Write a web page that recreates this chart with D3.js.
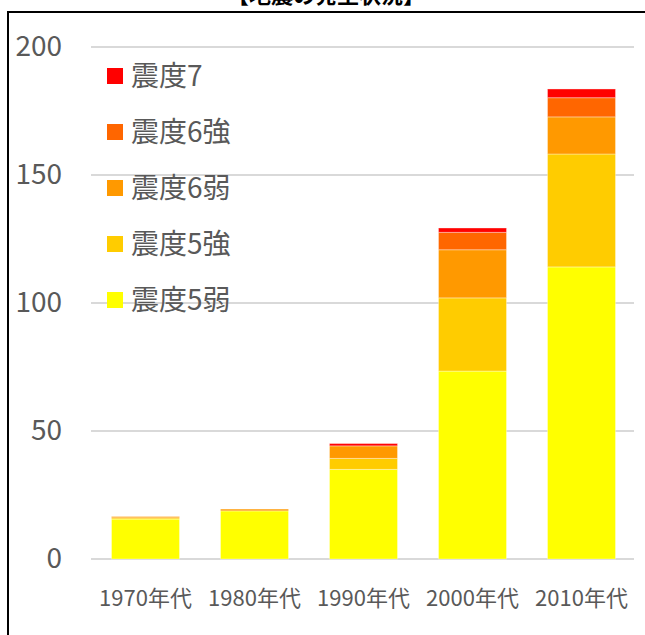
<!DOCTYPE html>
<html><head><meta charset="utf-8">
<script src="https://cdn.jsdelivr.net/npm/d3@7"></script>
<style>
html,body{margin:0;padding:0;background:#fff;}
svg{display:block;font-family:"Noto Sans CJK JP","Noto Sans",sans-serif;}
</style></head>
<body>
<svg id="chart" width="645" height="635"></svg>
<script>
const title = "【地震の発生状況】";
const categories = ["1970年代","1980年代","1990年代","2000年代","2010年代"];
const seriesNames = ["震度5弱","震度5強","震度6弱","震度6強","震度7"];
const s5weak   = [15.6, 18.8, 35.0, 73.4, 114.1];
const s5strong = [0.5, 0, 4.3, 28.6, 44.1];
const s6weak   = [0.5, 0.7, 4.9, 18.8, 14.5];
const s6strong = [0, 0, 0, 6.8, 7.5];
const s7       = [0, 0, 0.9, 1.7, 3.4];
const colors = ["#FFFF00","#FFCC00","#FF9900","#FF6600","#FF0000"];
const yTicks = [0, 50, 100, 150, 200];

const seriesValues = [s5weak, s5strong, s6weak, s6strong, s7];
const rows = categories.map((c, i) => {
  const r = {cat: c};
  seriesNames.forEach((n, j) => r[n] = seriesValues[j][i]);
  return r;
});

const svg = d3.select("#chart");
const x = d3.scaleBand().domain(categories).range([91, 636]).paddingInner(0.376).paddingOuter(0.188);
const y = d3.scaleLinear().domain([0, 200]).range([559, 47]);

// border
svg.append("rect").attr("x", 8).attr("y", 12).attr("width", 660).attr("height", 660)
  .attr("fill", "none").attr("stroke", "#000").attr("stroke-width", 2);

// title (partly above the visible area, as in the reference)
svg.append("text").attr("x", 326).attr("y", 3).attr("text-anchor", "middle")
  .attr("font-size", 22).attr("font-weight", "bold").attr("fill", "#000").text(title);

// gridlines
svg.append("g").selectAll("line").data(yTicks).join("line")
  .attr("x1", 91).attr("x2", 634)
  .attr("y1", d => y(d)).attr("y2", d => y(d))
  .attr("stroke", "#d9d9d9").attr("stroke-width", 2);

// y axis labels
const yAxis = d3.axisLeft(y).tickValues(yTicks).tickSize(0).tickPadding(0);
const yg = svg.append("g").attr("transform", "translate(62,0)").call(yAxis);
yg.select(".domain").remove();
yg.selectAll("text").attr("font-size", 28).attr("fill", "#595959")
  .attr("font-family", "'Noto Sans CJK JP','Noto Sans',sans-serif");

// stacked bars
const stack = d3.stack().keys(seriesNames)(rows);
svg.append("g").selectAll("g").data(stack).join("g")
  .attr("fill", (d, i) => colors[i])
  .selectAll("rect").data(d => d).join("rect")
  .attr("x", d => x(d.data.cat))
  .attr("width", x.bandwidth())
  .attr("y", d => y(d[1]))
  .attr("height", d => Math.max(0, y(d[0]) - y(d[1])))
  .attr("stroke", "rgba(255,255,255,0.35)").attr("stroke-width", 1);

// x axis labels
const xAxis = d3.axisBottom(x).tickSize(0).tickPadding(0);
const xg = svg.append("g").attr("transform", "translate(0,590)").call(xAxis);
xg.select(".domain").remove();
xg.selectAll("text").attr("font-size", 22).attr("fill", "#595959")
  .attr("font-family", "'Noto Sans CJK JP','Noto Sans',sans-serif");

// legend (reverse order)
const legendItems = seriesNames.map((n, i) => ({name: n, color: colors[i]})).reverse();
const lg = svg.append("g").selectAll("g").data(legendItems).join("g")
  .attr("transform", (d, i) => `translate(107,${76 + i * 56})`);
lg.append("rect").attr("x", 0).attr("y", -8).attr("width", 16).attr("height", 16)
  .attr("fill", d => d.color);
lg.append("text").attr("x", 24).attr("y", 0).attr("dy", "0.36em")
  .attr("font-size", 28).attr("fill", "#595959").text(d => d.name);
</script>
</body></html>
